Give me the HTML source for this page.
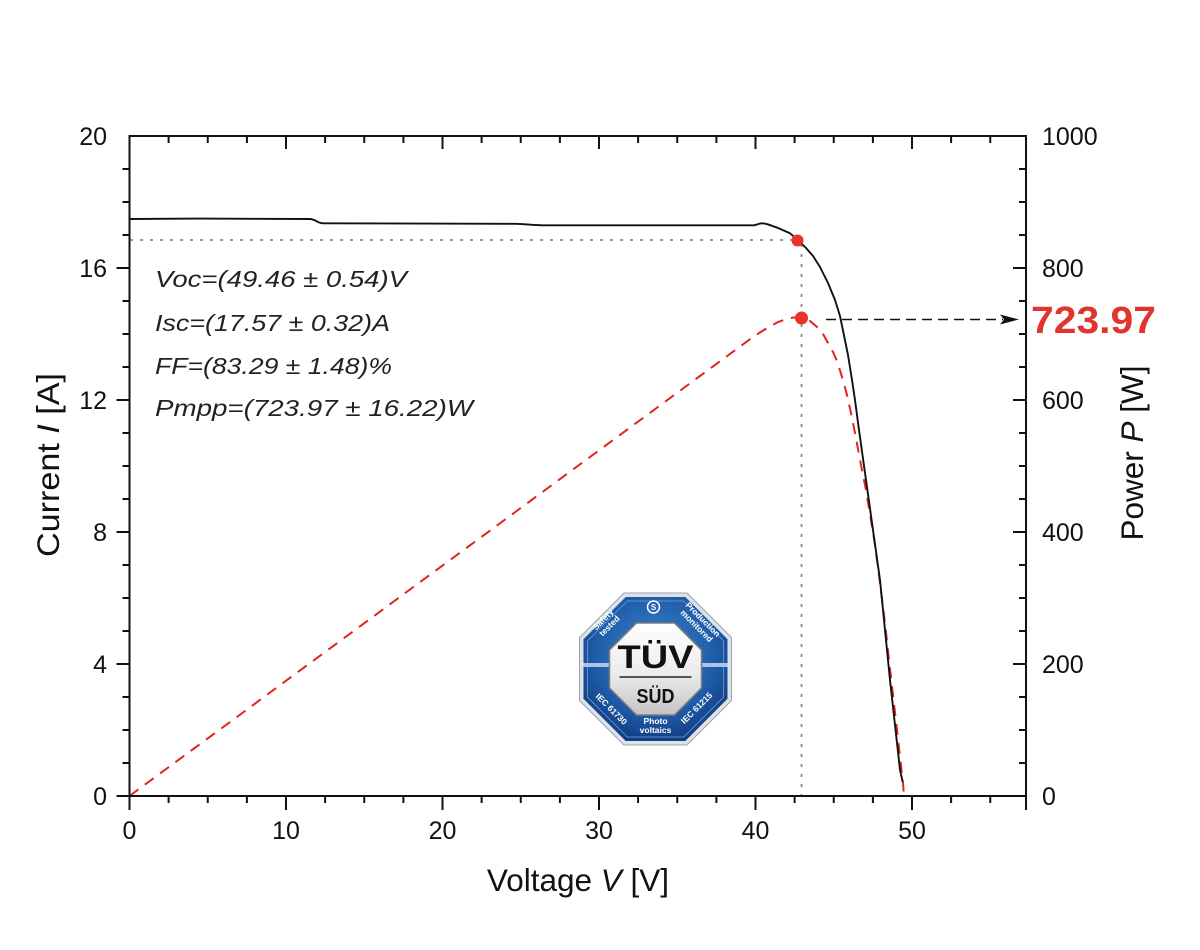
<!DOCTYPE html>
<html>
<head>
<meta charset="utf-8">
<style>
  html,body{margin:0;padding:0;background:#fff;}
  svg{display:block;}
  text{font-family:"Liberation Sans", Arial, sans-serif;}
</style>
</head>
<body>
<svg width="1200" height="950" viewBox="0 0 1200 950" xmlns="http://www.w3.org/2000/svg">
  <defs>
    <radialGradient id="blueG" cx="50%" cy="40%" r="60%">
      <stop offset="0%" stop-color="#3f86d0"/>
      <stop offset="70%" stop-color="#1f5ca8"/>
      <stop offset="100%" stop-color="#123f85"/>
    </radialGradient>
    <linearGradient id="innerG" x1="0" y1="0" x2="0" y2="1">
      <stop offset="0%" stop-color="#ffffff"/>
      <stop offset="55%" stop-color="#ececec"/>
      <stop offset="100%" stop-color="#c4c4c4"/>
    </linearGradient>
  </defs>
  <rect width="1200" height="950" fill="#fff"/>

  <!-- dotted guide lines -->
  <line x1="130" y1="240" x2="796" y2="240" stroke="#8a8a8a" stroke-width="1.8" stroke-dasharray="3 7"/>
  <line x1="801.5" y1="244" x2="801.5" y2="795" stroke="#8a8a8a" stroke-width="1.8" stroke-dasharray="3 7"/>

  <!-- Power curve (red dashed) -->
  <path d="M129.5,796 L753,337 L760,332.5 L767,328 L778,322 L788,318.5 L797,317 L802,317.5 L810,321 L817,327 L823,334 L828,343 L833,352 L837,361 L843,380 L847,395 L851,413 L855,433 L861,465 L866,490 L871,520 L875,545 L879,575 L883,607 L886,632 L889,660 L893,695 L897,730 L900,757 L903,783 L904,796"
        fill="none" stroke="#e3231d" stroke-width="2" stroke-dasharray="11 8"/>

  <!-- I-V curve (black) -->
  <path d="M129.5,219 L200,218.6 L310,219 C315,219 318,223.3 323,223.3 L516,223.8 C525,224 535,225.3 543,225.3 L754,225.3 C757,225 759,223.3 762,223.3 C766,223.3 770,225 778,228 L790,233.3 L798,240 L806,248 L813,256 L820,267 L828,283 L835,300 L840,316 L843.5,333 L848,355 L852,380 L855,400 L859,430 L862.5,455 L866,480 L873,530 L880,580 L885,630 L890,680 L895,725 L900,770 L902.7,782"
        fill="none" stroke="#111" stroke-width="1.9" stroke-linejoin="round"/>

  <!-- red markers -->
  <circle cx="797.5" cy="240.5" r="6" fill="#e8322a"/>
  <circle cx="801.5" cy="318" r="6.5" fill="#e8322a"/>

  <!-- arrow to right axis -->
  <line x1="826" y1="319.5" x2="1003" y2="319.5" stroke="#111" stroke-width="1.6" stroke-dasharray="10 6"/>
  <polygon points="1019,319.5 1000,314.5 1004,319.5 1000,324.5" fill="#111"/>

  <!-- axes frame -->
  <rect x="129.5" y="136" width="896.5" height="660" fill="none" stroke="#111" stroke-width="2"/>

  <!-- ticks -->
  <path stroke="#111" stroke-width="2" fill="none" d="
    M116.5,796 H129.5 M122.5,763 H129.5 M122.5,730 H129.5 M122.5,697 H129.5
    M116.5,664 H129.5 M122.5,631 H129.5 M122.5,598 H129.5 M122.5,565 H129.5
    M116.5,532 H129.5 M122.5,499 H129.5 M122.5,466 H129.5 M122.5,433 H129.5
    M116.5,400 H129.5 M122.5,367 H129.5 M122.5,334 H129.5 M122.5,301 H129.5
    M116.5,268 H129.5 M122.5,235 H129.5 M122.5,202 H129.5 M122.5,169 H129.5
    M1013,796 H1026 M1019,763 H1026 M1019,730 H1026 M1019,697 H1026
    M1013,664 H1026 M1019,631 H1026 M1019,598 H1026 M1019,565 H1026
    M1013,532 H1026 M1019,499 H1026 M1019,466 H1026 M1019,433 H1026
    M1013,400 H1026 M1019,367 H1026 M1019,334 H1026 M1019,301 H1026
    M1013,268 H1026 M1019,235 H1026 M1019,202 H1026 M1019,169 H1026
    M129.5,796 V810 M168.6,796 V803 M207.75,796 V803 M246.9,796 V803
    M286,796 V810 M325.1,796 V803 M364.25,796 V803 M403.4,796 V803
    M442.5,796 V810 M481.6,796 V803 M520.75,796 V803 M559.9,796 V803
    M599,796 V810 M638.1,796 V803 M677.25,796 V803 M716.4,796 V803
    M755.5,796 V810 M794.6,796 V803 M833.75,796 V803 M872.9,796 V803
    M912,796 V810 M951.1,796 V803 M990.25,796 V803 M1026,796 V810
    M168.6,136 V143 M207.75,136 V143 M246.9,136 V143
    M286,136 V149 M325.1,136 V143 M364.25,136 V143 M403.4,136 V143
    M442.5,136 V149 M481.6,136 V143 M520.75,136 V143 M559.9,136 V143
    M599,136 V149 M638.1,136 V143 M677.25,136 V143 M716.4,136 V143
    M755.5,136 V149 M794.6,136 V143 M833.75,136 V143 M872.9,136 V143
    M912,136 V149 M951.1,136 V143 M990.25,136 V143
  "/>

  <!-- left tick labels -->
  <g font-size="25" fill="#111" text-anchor="end">
    <text x="107" y="805">0</text>
    <text x="107" y="673">4</text>
    <text x="107" y="541">8</text>
    <text x="107" y="409">12</text>
    <text x="107" y="277">16</text>
    <text x="107" y="145">20</text>
  </g>
  <!-- right tick labels -->
  <g font-size="25" fill="#111" text-anchor="start">
    <text x="1042" y="805">0</text>
    <text x="1042" y="673">200</text>
    <text x="1042" y="541">400</text>
    <text x="1042" y="409">600</text>
    <text x="1042" y="277">800</text>
    <text x="1042" y="145">1000</text>
  </g>
  <!-- bottom tick labels -->
  <g font-size="25" fill="#111" text-anchor="middle">
    <text x="129.5" y="839">0</text>
    <text x="286" y="839">10</text>
    <text x="442.5" y="839">20</text>
    <text x="599" y="839">30</text>
    <text x="755.5" y="839">40</text>
    <text x="912" y="839">50</text>
  </g>

  <!-- axis titles -->
  <text x="578" y="891" font-size="31.5" fill="#111" text-anchor="middle">Voltage <tspan font-style="italic">V</tspan> [V]</text>
  <text transform="translate(59,465) rotate(-90)" font-size="31.5" fill="#111" text-anchor="middle" textLength="184" lengthAdjust="spacingAndGlyphs">Current <tspan font-style="italic">I</tspan> [A]</text>
  <text transform="translate(1143,453) rotate(-90)" font-size="31.5" fill="#111" text-anchor="middle">Power <tspan font-style="italic">P</tspan> [W]</text>

  <!-- big value -->
  <text x="1031" y="333" font-size="38" font-weight="bold" fill="#e0352e" textLength="125" lengthAdjust="spacingAndGlyphs">723.97</text>

  <!-- annotations -->
  <g font-size="23.5" font-style="italic" fill="#222">
    <text x="155" y="287" textLength="252" lengthAdjust="spacingAndGlyphs">Voc=(49.46 ± 0.54)V</text>
    <text x="155" y="331" textLength="235" lengthAdjust="spacingAndGlyphs">Isc=(17.57 ± 0.32)A</text>
    <text x="155" y="374" textLength="237" lengthAdjust="spacingAndGlyphs">FF=(83.29 ± 1.48)%</text>
    <text x="155" y="416" textLength="318" lengthAdjust="spacingAndGlyphs">Pmpp=(723.97 ± 16.22)W</text>
  </g>

  <!-- TUV SUD logo -->
  <g transform="translate(655.5,669)">
    <polygon points="-31.5,-76 31.5,-76 76,-31.5 76,31.5 31.5,76 -31.5,76 -76,31.5 -76,-31.5" fill="#dde2e8" stroke="#9aa3ad" stroke-width="1"/>
    <polygon points="-29.8,-72 29.8,-72 72,-29.8 72,29.8 29.8,72 -29.8,72 -72,29.8 -72,-29.8" fill="url(#blueG)"/>
    <polygon points="-28.2,-68 28.2,-68 68,-28.2 68,28.2 28.2,68 -28.2,68 -68,28.2 -68,-28.2" fill="none" stroke="#6f9fd6" stroke-width="0.8"/>
    <rect x="-72" y="-6" width="144" height="4" fill="#a9c6e8"/>
    <polygon points="-19,-46 19,-46 46,-19 46,19 19,46 -19,46 -46,19 -46,-19" fill="url(#innerG)" stroke="#7d7d7d" stroke-width="1.5"/>
    <text x="0" y="-1" font-size="32" font-weight="bold" fill="#111" text-anchor="middle" textLength="76" lengthAdjust="spacingAndGlyphs">TÜV</text>
    <line x1="-36" y1="8" x2="36" y2="8" stroke="#222" stroke-width="1.5"/>
    <text x="0" y="34" font-size="20" font-weight="bold" fill="#111" text-anchor="middle" textLength="38" lengthAdjust="spacingAndGlyphs">SÜD</text>
    <g fill="#fff" font-size="8.5" font-weight="bold" text-anchor="middle">
      <g transform="translate(-49,-46) rotate(-45)">
        <text x="0" y="-2">Safety</text>
        <text x="0" y="7">tested</text>
      </g>
      <g transform="translate(44,-46) rotate(45)">
        <text x="0" y="-2">Production</text>
        <text x="0" y="7">monitored</text>
      </g>
      <g transform="translate(-44,40) rotate(45)">
        <text x="0" y="3">IEC 61730</text>
      </g>
      <g transform="translate(41,39) rotate(-45)">
        <text x="0" y="3">IEC 61215</text>
      </g>
      <text x="0" y="55">Photo</text>
      <text x="0" y="64">voltaics</text>
      <circle cx="-2" cy="-62" r="6" fill="none" stroke="#fff" stroke-width="1.5"/>
      <text x="-2" y="-59" font-size="8">S</text>
    </g>
  </g>
</svg>
</body>
</html>
